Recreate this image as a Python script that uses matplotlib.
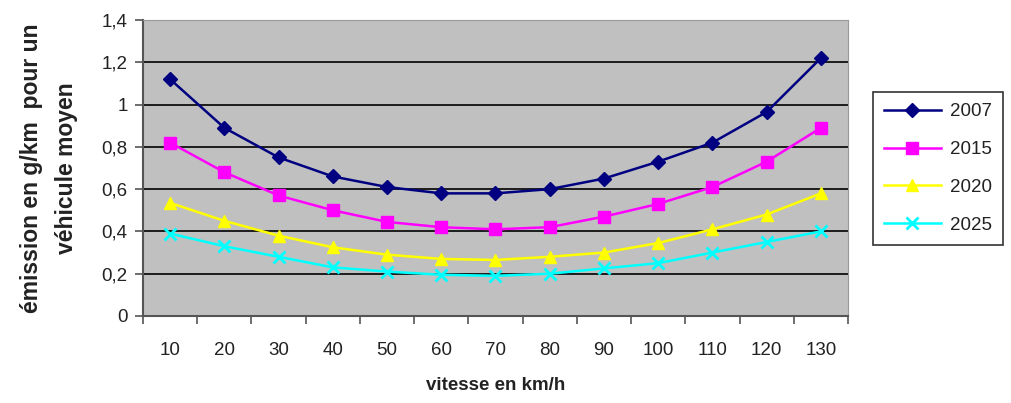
import matplotlib
matplotlib.use("Agg")
import matplotlib.pyplot as plt
from matplotlib.ticker import FixedLocator, NullFormatter

plt.rcParams['font.family'] = ['Liberation Sans', 'DejaVu Sans']

speeds = ['10', '20', '30', '40', '50', '60', '70', '80', '90', '100', '110', '120', '130']
y2007 = [1.12, 0.89, 0.75, 0.66, 0.61, 0.58, 0.58, 0.60, 0.65, 0.73, 0.82, 0.965, 1.22]
y2015 = [0.82, 0.68, 0.57, 0.50, 0.445, 0.42, 0.41, 0.42, 0.47, 0.53, 0.61, 0.73, 0.89]
y2020 = [0.535, 0.45, 0.38, 0.325, 0.29, 0.27, 0.265, 0.28, 0.30, 0.345, 0.41, 0.48, 0.58]
y2025 = [0.39, 0.33, 0.28, 0.23, 0.21, 0.195, 0.19, 0.20, 0.225, 0.25, 0.30, 0.35, 0.40]
yticks = [0, 0.2, 0.4, 0.6, 0.8, 1.0, 1.2, 1.4]
ytick_labels = ['0', '0,2', '0,4', '0,6', '0,8', '1', '1,2', '1,4']

fig = plt.figure(figsize=(10.11, 4.03), dpi=100)
ax = fig.add_axes([0.1414, 0.2159, 0.6974, 0.7345])
ax.set_facecolor('#c0c0c0')

x = list(range(1, len(speeds) + 1))
ax.plot(x, y2007, color='#000080', marker='D', markersize=7, lw=1.8, label='2007')
ax.plot(x, y2015, color='#ff00ff', marker='s', markersize=9, lw=1.8, label='2015')
ax.plot(x, y2020, color='#ffff00', marker='^', markersize=8, lw=1.8, label='2020')
ax.plot(x, y2025, color='#00ffff', marker='x', markersize=8, mew=2, lw=1.8, label='2025')

ax.set_xlim(0.5, len(speeds) + 0.5)
ax.set_ylim(0, 1.4)
ax.set_yticks(yticks)
ax.set_yticklabels(ytick_labels)
ax.yaxis.grid(True, color='black', lw=1.2)
ax.set_axisbelow(True)

ax.set_xticks(x)
ax.set_xticklabels(speeds)
ax.xaxis.set_minor_locator(FixedLocator([i + 0.5 for i in range(0, len(speeds) + 1)]))
ax.xaxis.set_minor_formatter(NullFormatter())
ax.tick_params(axis='x', which='major', length=0, pad=19, labelsize=13.5, colors='#222222')
ax.tick_params(axis='x', which='minor', length=6, color='#555555', width=1.2)
ax.tick_params(axis='y', length=6, color='#555555', width=1.2, labelsize=13.5, labelcolor='#222222', pad=5)

for s in ['top', 'right']:
    ax.spines[s].set_color('#999999')
for s in ['left', 'bottom']:
    ax.spines[s].set_color('#555555')
    ax.spines[s].set_linewidth(1.5)

ax.set_xlabel('vitesse en km/h', fontsize=13.5, fontweight='bold', color='#222222', labelpad=13)
ax.yaxis.set_label_coords(-0.092, 0.5)
ax.set_ylabel('émission en g/km  pour un\nvéhicule moyen', fontsize=16.5, fontweight='bold',
              color='#222222', linespacing=1.65)

leg = fig.legend(loc='upper left', bbox_to_anchor=(873 / 1011, 1 - 92 / 403), fontsize=13.5,
                 frameon=True, fancybox=False, edgecolor='black', handlelength=3.0,
                 borderpad=0.6, labelspacing=1.1, borderaxespad=0, handletextpad=0.5)
leg.get_frame().set_linewidth(1.2)
for t in leg.get_texts():
    t.set_color('#222222')

fig.savefig('out.png', dpi=100, facecolor='white')
